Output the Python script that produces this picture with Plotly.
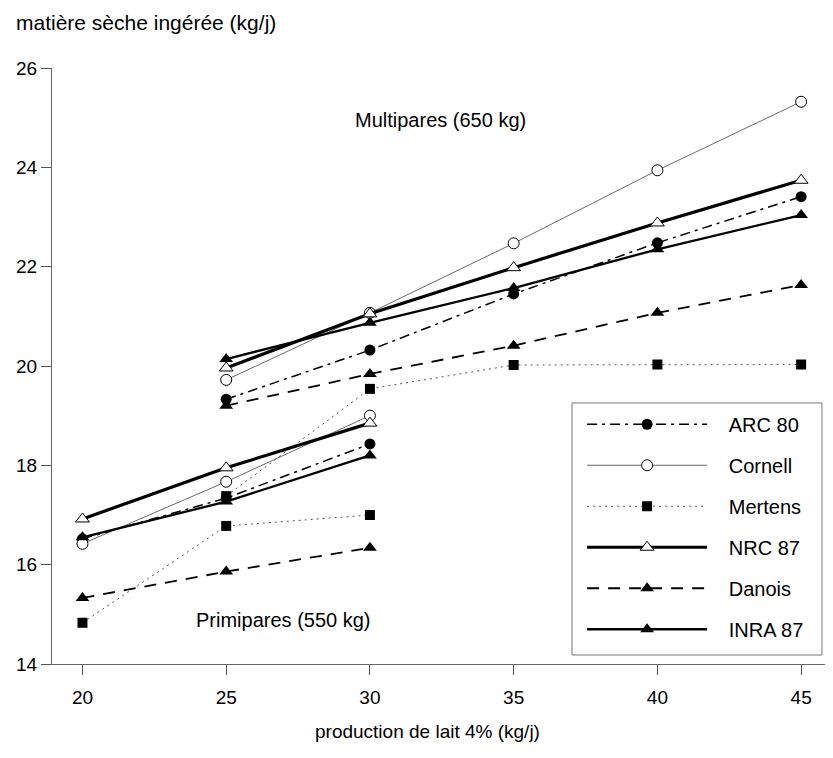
import plotly.graph_objects as go

# ---- data ----
x_prim = [20, 25, 30]
x_mult = [25, 30, 35, 40, 45]

models = ["ARC 80", "Cornell", "Mertens", "NRC 87", "Danois", "INRA 87"]

arc_prim = [16.52, 17.34, 18.43]
arc_mult = [19.33, 20.32, 21.45, 22.48, 23.41]
cornell_prim = [16.42, 17.67, 19.0]
cornell_mult = [19.72, 21.07, 22.47, 23.94, 25.32]
mertens_prim = [14.83, 16.78, 17.0]
mertens_mult = [17.38, 19.54, 20.02, 20.03, 20.03]
nrc_prim = [16.92, 17.95, 18.85]
nrc_mult = [19.96, 21.05, 21.98, 22.88, 23.74]
danois_prim = [15.33, 15.86, 16.34]
danois_mult = [19.2, 19.84, 20.41, 21.07, 21.63]
inra_prim = [16.55, 17.27, 18.2]
inra_mult = [20.14, 20.87, 21.57, 22.35, 23.04]

y_ticks = [14, 16, 18, 20, 22, 24, 26]
x_ticks = [20, 25, 30, 35, 40, 45]

prim = [arc_prim, cornell_prim, mertens_prim, nrc_prim, danois_prim, inra_prim]
mult = [arc_mult, cornell_mult, mertens_mult, nrc_mult, danois_mult, inra_mult]

# ---- styles ----
styles = [
    dict(line=dict(color="black", width=1.5, dash="10px,5px,3px,5px"),
         marker=dict(symbol="circle", size=11, color="black")),
    dict(line=dict(color="#444", width=0.8),
         marker=dict(symbol="circle", size=11, color="white", line=dict(color="black", width=1))),
    dict(line=dict(color="#555", width=1, dash="2px,4px"),
         marker=dict(symbol="square", size=10, color="black")),
    dict(line=dict(color="black", width=3.2),
         marker=dict(symbol="triangle-up", size=12, color="white", line=dict(color="black", width=1))),
    dict(line=dict(color="black", width=1.8, dash="12px,9px"),
         marker=dict(symbol="triangle-up", size=12, color="black")),
    dict(line=dict(color="black", width=2.3),
         marker=dict(symbol="triangle-up", size=12, color="black")),
]

FONT = "Liberation Sans, Arial, sans-serif"
PAD = "\u00a0\u00a0\u00a0"

fig = go.Figure()
for i, name in enumerate(models):
    xs = x_prim + [None] + x_mult
    ys = prim[i] + [None] + mult[i]
    fig.add_trace(go.Scatter(
        x=xs, y=ys, mode="lines+markers", name=PAD + name,
        legendgroup=name, connectgaps=False, **styles[i]))

fig.update_layout(
    width=825, height=750,
    margin=dict(l=44, r=6, t=60, b=94),
    paper_bgcolor="white", plot_bgcolor="white",
    font=dict(family=FONT, size=19, color="black"),
    showlegend=True,
    legend=dict(
        x=0.684, xanchor="left", y=0.435, yanchor="top",
        borderwidth=0, bgcolor="rgba(0,0,0,0)",
        font=dict(size=20), itemwidth=120, traceorder="grouped",
        tracegroupgap=12,
    ),
    shapes=[
        dict(type="rect", xref="paper", yref="paper", x0=0.671, x1=0.9935,
             y0=0.0151, y1=0.438, line=dict(color="#777", width=1),
             fillcolor="white", layer="below"),
    ],
    xaxis=dict(range=[18.94, 45.9], tickvals=x_ticks, showgrid=False, zeroline=False,
               showline=True, linecolor="#666", linewidth=1, ticks="outside",
               ticklen=10, tickcolor="#555", tickfont=dict(size=19),
               ticklabelstandoff=6),
    yaxis=dict(range=[14, 26], tickvals=y_ticks, showgrid=False, zeroline=False,
               showline=True, linecolor="#666", linewidth=1, ticks="outside",
               ticklen=10, tickcolor="#555", tickfont=dict(size=19)),
    annotations=[
        dict(text="matière sèche ingérée (kg/j)", xref="paper", yref="paper",
             x=-0.049, y=1.077, xanchor="left", yanchor="middle", showarrow=False,
             font=dict(size=21)),
        dict(text="production de lait 4% (kg/j)", xref="paper", yref="paper",
             x=0.484, y=-0.113, xanchor="center", yanchor="middle", showarrow=False,
             font=dict(size=19)),
        dict(text="Multipares (650 kg)", xref="x", yref="y", x=32.45, y=24.95,
             xanchor="center", yanchor="middle", showarrow=False, font=dict(size=20)),
        dict(text="Primipares (550 kg)", xref="x", yref="y", x=27.0, y=14.88,
             xanchor="center", yanchor="middle", showarrow=False, font=dict(size=20)),
    ],
)

fig.write_html("out.html")
